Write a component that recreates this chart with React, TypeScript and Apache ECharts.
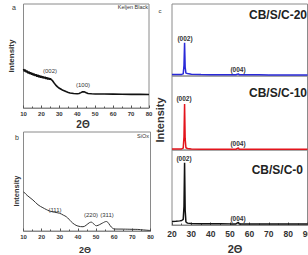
import React, { useEffect, useRef } from "react";
import * as echarts from "echarts";

// Panel a: Keljen Black diffraction pattern [2θ, intensity]
const keljenBlack: [number, number][] = [
  [10, 37.5], [10.5, 35.2], [11, 36.8], [11.5, 34.3], [12, 35.8], [12.5, 33.4], [13, 35], [13.5, 32.7],
  [14, 34.3], [14.5, 32], [15, 33.6], [15.5, 31.4], [16, 33], [16.5, 30.8], [17, 32.4], [17.5, 30.2],
  [18, 31.9], [18.5, 29.7], [19, 31.3], [19.5, 29.2], [20, 30.8], [20.5, 28.8], [21, 30.3], [21.5, 28.4],
  [22, 29.9], [22.5, 28], [23, 29.4], [23.5, 27.6], [24, 29], [24.5, 27.4], [25, 28.4], [25.5, 27.2],
  [26, 26.6], [27, 24.2], [28, 22], [29, 20.3], [30, 19], [31, 18], [32, 17], [33, 16.3], [34, 15.6],
  [35, 15], [36, 14.5], [38, 14], [40, 13.7], [41, 14], [42, 14.8], [43, 15.7], [44, 15.5], [45, 14.6],
  [46, 14], [48, 13.7], [50, 13.5], [55, 13.4], [60, 13.3], [65, 13.2], [70, 13.1], [75, 13.1], [80, 13],
];

// Panel b: SiOx diffraction pattern [2θ, intensity]
const siox: [number, number][] = [
  [10, 39.7], [12, 36], [15.2, 31.3], [18, 26.5], [20.7, 23.5], [24.4, 20.2], [27, 19], [29.9, 17.9],
  [32, 16], [33.6, 14.4], [35, 12], [36.3, 9.4], [38, 6.8], [40, 5], [42.8, 4.3], [44.5, 5.8],
  [46.5, 8.6], [47.5, 8.9], [48.5, 7.5], [50.2, 5.3], [52, 6.5], [53.5, 8], [55.7, 9.6], [57, 7.5],
  [58.4, 4], [60.3, 2], [65, 1.9], [70, 1.7], [73, 1.6], [76, 1.1], [78, 0.8], [80, 0.5],
];

// Panel c: CB/S/C composites, shared 2θ grid
const cTheta = [20, 22, 24, 25, 25.8, 26.2, 26.5, 26.8, 27.2, 28, 30, 35, 40, 45, 50, 53, 54.3, 54.7, 56, 60, 65, 70, 75, 80, 85, 90];
const cbsc20 = [2, 2, 2, 2.2, 3, 15, 46, 12, 4, 3.4, 2.4, 2, 1.9, 1.8, 1.7, 1.7, 3, 1.7, 1.7, 1.6, 1.6, 1.5, 1.5, 1.5, 1.5, 1.5];
const cbsc10 = [1.2, 1.2, 1.3, 1.5, 2.5, 18, 62, 15, 3, 2, 1.3, 1.1, 1, 1, 1, 1, 2.8, 1, 1, 1, 1, 1, 1, 1, 1, 1];
const cbsc0 = [4.7, 5, 5.5, 6, 7.5, 25, 83, 20, 4, 2.5, 2, 1.8, 1.7, 1.6, 1.5, 1.5, 3.5, 1.5, 1.5, 1.4, 1.4, 1.4, 1.4, 1.4, 1.4, 1.4];

const abTicks = [10, 20, 30, 40, 50, 60, 70, 80];
const cTicks = [20, 30, 40, 50, 60, 70, 80, 90];

const FONT = "Liberation Sans, Arial, sans-serif";
const BORDER = "#8a8a8a";
const TXT = "#333";

const pair = (xs: number[], ys: number[]) => xs.map((x, i) => [x, ys[i]]);

export default function App() {
  const ref = useRef<HTMLDivElement>(null);

  useEffect(() => {
    if (!ref.current) return;
    const chart = echarts.init(ref.current, undefined, { renderer: "svg" });

    const grids = [
      { left: 23.5, top: 4, width: 125.5, height: 104 },
      { left: 23.5, top: 132, width: 127, height: 99 },
      { left: 172, top: 4, width: 135.5, height: 72 },
      { left: 172, top: 76, width: 135.5, height: 74 },
      { left: 172, top: 150, width: 135.5, height: 75 },
    ].map((g) => ({
      ...g,
      show: true,
      borderColor: BORDER,
      borderWidth: 1,
      containLabel: false,
      outerBoundsMode: "none",
    }));

    const abX = (gi: number) => ({
      type: "value",
      gridIndex: gi,
      min: abTicks[0],
      max: abTicks[abTicks.length - 1],
      interval: 10,
      axisLine: { lineStyle: { color: BORDER } },
      axisTick: { inside: true, length: 2.5, lineStyle: { color: "#555" } },
      minorTick: { show: true, splitNumber: 2, length: 1.5, lineStyle: { color: "#555" } },
      splitLine: { show: false },
      axisLabel: { fontSize: 6, fontFamily: FONT, fontWeight: "bold", color: TXT, margin: 3 },
    });

    const cX = (gi: number, labels: boolean) => ({
      type: "value",
      gridIndex: gi,
      min: cTicks[0],
      max: cTicks[cTicks.length - 1],
      interval: 10,
      axisLine: { show: labels, lineStyle: { color: BORDER } },
      axisTick: { show: labels, inside: true, length: 2.5, lineStyle: { color: "#555" } },
      minorTick: { show: labels, splitNumber: 2, length: 1.5, lineStyle: { color: "#555" } },
      splitLine: { show: false },
      axisLabel: {
        show: labels,
        fontSize: 8.5,
        fontFamily: FONT,
        fontWeight: "bold",
        color: TXT,
        margin: 4,
        showMaxLabel: true,
      },
    });

    const yAx = (gi: number) => ({
      type: "value",
      gridIndex: gi,
      min: 0,
      max: 100,
      show: true,
      axisLine: { show: false },
      axisTick: { show: false },
      axisLabel: { show: false },
      splitLine: { show: false },
    });

    const txt = (x: number, y: number, text: string, size: number, opts: any = {}) => ({
      type: "text",
      x,
      y,
      rotation: opts.rotation ?? 0,
      style: {
        text,
        fontSize: size,
        fontFamily: FONT,
        fontWeight: opts.weight ?? "bold",
        fill: opts.color ?? TXT,
        align: opts.align ?? "center",
        verticalAlign: "middle",
      },
    });

    chart.setOption({
      animation: false,
      backgroundColor: "#fff",
      grid: grids,
      xAxis: [abX(0), abX(1), cX(2, false), cX(3, false), cX(4, true)],
      yAxis: [yAx(0), yAx(1), yAx(2), yAx(3), yAx(4)],
      series: [
        {
          type: "line",
          xAxisIndex: 0,
          yAxisIndex: 0,
          data: keljenBlack,
          showSymbol: false,
          lineStyle: { color: "#111", width: 1.6 },
        },
        {
          type: "line",
          xAxisIndex: 1,
          yAxisIndex: 1,
          data: siox,
          smooth: 0.4,
          showSymbol: false,
          lineStyle: { color: "#333", width: 1 },
        },
        {
          type: "line",
          xAxisIndex: 2,
          yAxisIndex: 2,
          data: pair(cTheta, cbsc20),
          showSymbol: false,
          lineStyle: { color: "#2a2ad8", width: 1.5 },
        },
        {
          type: "line",
          xAxisIndex: 3,
          yAxisIndex: 3,
          data: pair(cTheta, cbsc10),
          showSymbol: false,
          lineStyle: { color: "#e3141c", width: 1.5 },
        },
        {
          type: "line",
          xAxisIndex: 4,
          yAxisIndex: 4,
          data: pair(cTheta, cbsc0),
          showSymbol: false,
          lineStyle: { color: "#111", width: 1.5 },
        },
      ],
      graphic: [
        // panel letters
        txt(14, 7, "a", 7, { weight: "normal" }),
        txt(17, 137, "b", 7, { weight: "normal" }),
        txt(160, 11, "c", 6, { weight: "normal" }),
        // sample names
        txt(148, 7, "Keljen Black", 5.5, { align: "right", weight: "normal" }),
        txt(149, 136, "SiOx", 5.5, { align: "right", weight: "normal" }),
        txt(307, 15, "CB/S/C-20", 12, { align: "right", color: "#222" }),
        txt(307, 93, "CB/S/C-10", 12, { align: "right", color: "#222" }),
        txt(303, 170, "CB/S/C-0", 12, { align: "right", color: "#222" }),
        // axis titles
        txt(11, 56, "Intensity", 8, { rotation: Math.PI / 2 }),
        txt(16, 191, "Intensity", 7.5, { rotation: Math.PI / 2 }),
        txt(160, 120, "Intensity", 11, { rotation: Math.PI / 2 }),
        txt(83, 124, "2Θ", 10),
        txt(85, 250, "2Θ", 9),
        txt(235, 249, "2Θ", 11),
        // peak indices
        txt(50, 71, "(002)", 6, { weight: "normal" }),
        txt(83, 85, "(100)", 6, { weight: "normal" }),
        txt(55, 210, "(111)", 6, { weight: "normal" }),
        txt(91, 215, "(220)", 6, { weight: "normal" }),
        txt(107, 215, "(311)", 6, { weight: "normal" }),
        txt(185, 38, "(002)", 6.5),
        txt(238, 69, "(004)", 6.5),
        txt(184, 98, "(002)", 6.5),
        txt(238, 143, "(004)", 6.5),
        txt(184, 158, "(002)", 6.5),
        txt(238, 218, "(004)", 6.5),
      ],
    });

    return () => chart.dispose();
  }, []);

  return (
    <div
      ref={ref}
      style={{ position: "fixed", left: 0, top: 0, width: 308, height: 255, background: "#fff" }}
    />
  );
}
